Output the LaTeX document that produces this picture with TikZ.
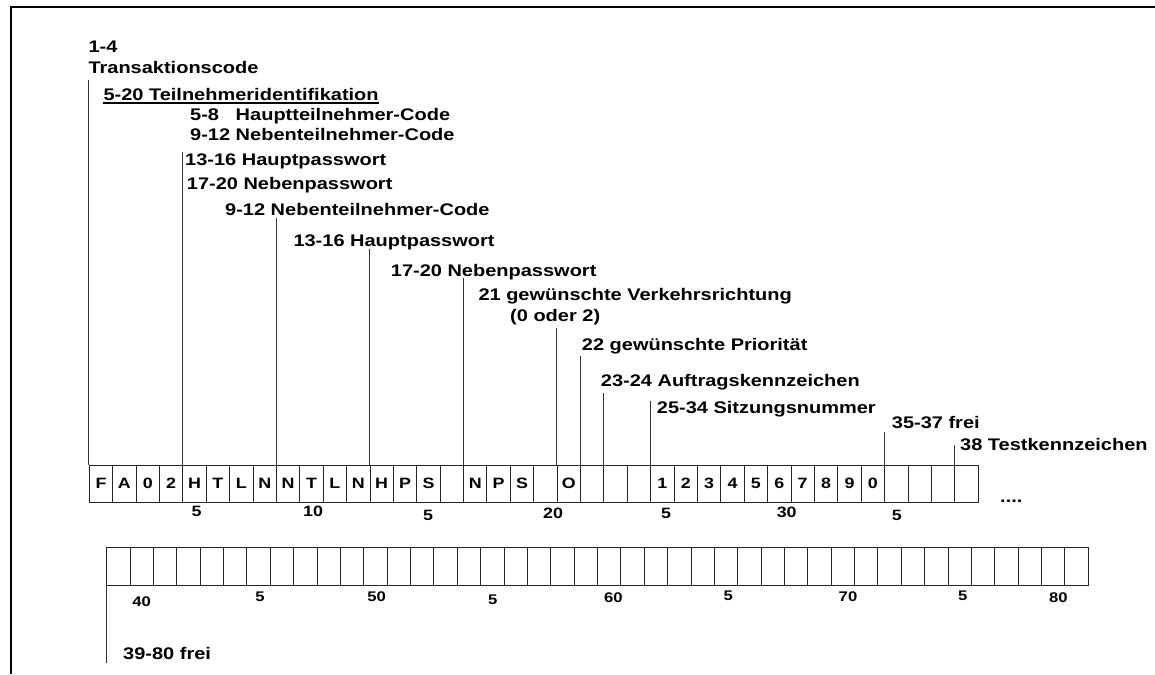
\documentclass[tikz,border=0pt]{standalone}
\usepackage{fontspec}
\setmainfont{Liberation Sans}[FakeStretch=1.19]
\begin{document}
\begin{tikzpicture}[x=1pt,y=-1pt,
  lab/.style={anchor=base west,inner sep=0pt,font=\fontsize{16.8}{20}\selectfont\bfseries},
  cell/.style={draw=black!85,line width=0.9pt,minimum width=23.39pt,minimum height=37pt,inner sep=0pt,font=\fontsize{15}{18}\selectfont\bfseries},
  cellb/.style={cell,minimum width=23.37pt,minimum height=38.4pt},
  num/.style={inner sep=0pt,font=\fontsize{15}{18}\selectfont\bfseries},
  numb/.style={inner sep=0pt,font=\fontsize{14}{16}\selectfont\bfseries},
  lead/.style={draw=black!80,line width=0.9pt}]
\useasboundingbox (0,0) rectangle (1155,674);
% frame
\draw[line width=2pt] (1155,7) -- (11,7) -- (11,674);
% row 1 cells
\foreach \t [count=\i] in {F,A,0,2,H,T,L,N,N,T,L,N,H,P,S,{},N,P,S,{},O,{},{},{},1,2,3,4,5,6,7,8,9,0,{},{},{},{}}
  \node[cell] (c\i) at ({89.3+23.39*(\i-0.5)},483.5) {\t};
% row 2 cells
\foreach \i in {39,...,80}
  \node[cellb] (d\i) at ({106.7+23.37*(\i-38.5)},566.5) {};
% row 1 numbers
\node[num] (r1a) at (196.7,511) {5};
\node[num] (r1b) at (313,511) {10};
\node[num] (r1c) at (428,515) {5};
\node[num] (r1d) at (553,513) {20};
\node[num] (r1e) at (666,513) {5};
\node[num] (r1f) at (786.7,512.7) {30};
\node[num] (r1g) at (896.7,515) {5};
\node[lab] (dots) at (1000,502) {....};
% row 2 numbers
\node[numb] (r2a) at (141.7,601.7) {40};
\node[numb] (r2b) at (260,596.7) {5};
\node[numb] (r2c) at (376.7,597) {50};
\node[numb] (r2d) at (492.7,600) {5};
\node[numb] (r2e) at (613.3,597.3) {60};
\node[numb] (r2f) at (728.3,596) {5};
\node[numb] (r2g) at (848,597) {70};
\node[numb] (r2h) at (962.7,596) {5};
\node[numb] (r2i) at (1058.3,597.3) {80};
% labels
\node[lab] (n14) at (88.3,52.7) {1-4};
\node[lab] (ntc) at (88.3,74) {Transaktionscode};
\node[lab] (n520) at (103.3,100) {5-20 Teilnehmeridentifikation};
\draw[line width=1.6pt] ([yshift=-3.3pt]n520.base west) -- ([yshift=-3.3pt]n520.base east);
\node[lab] (n58) at (190,120.7) {5-8\ \ \ Hauptteilnehmer-Code};
\node[lab] (n912a) at (190,140.5) {9-12 Nebenteilnehmer-Code};
\node[lab] (n1316a) at (185,165) {13-16 Hauptpasswort};
\node[lab] (n1720a) at (186.7,189.3) {17-20 Nebenpasswort};
\node[lab] (n912b) at (225,215) {9-12 Nebenteilnehmer-Code};
\node[lab] (n1316b) at (293.3,246.7) {13-16 Hauptpasswort};
\node[lab] (n1720b) at (390.7,276) {17-20 Nebenpasswort};
\node[lab] (n21) at (478.3,300.7) {21 gewünschte Verkehrsrichtung};
\node[lab] (n21b) at (510,321) {(0 oder 2)};
\node[lab] (n22) at (581.7,350.7) {22 gewünschte Priorität};
\node[lab] (n2324) at (600.7,386) {23-24 Auftragskennzeichen};
\node[lab] (n2534) at (656.7,413) {25-34 Sitzungsnummer};
\node[lab] (n3537) at (891.7,428) {35-37 frei};
\node[lab] (n38) at (960,450) {38 Testkennzeichen};
\node[lab] (n3980) at (123,659) {39-80 frei};
% leader line ends
\coordinate (t1) at (89.3,80);
\coordinate (t5) at (183.3,151.7);
\coordinate (t9) at (277.3,218.3);
\coordinate (t13) at (370.7,249.3);
\coordinate (t17) at (464,278.3);
\coordinate (t21) at (557.3,327.7);
\coordinate (t22) at (580.7,356);
\coordinate (t23) at (604,393.3);
\coordinate (t25) at (650.7,400.7);
\coordinate (t35) at (884.7,431.7);
\coordinate (t38) at (954.7,445);
\coordinate (b39) at (106.7,663);
\foreach \k in {1,5,9,13,17,21,22,23,25,35,38}
  \draw[lead] (c\k.north west) -- (c\k.north west |- t\k);
\draw[lead] (d39.south west) -- (d39.south west |- b39);
\end{tikzpicture}
\end{document}
